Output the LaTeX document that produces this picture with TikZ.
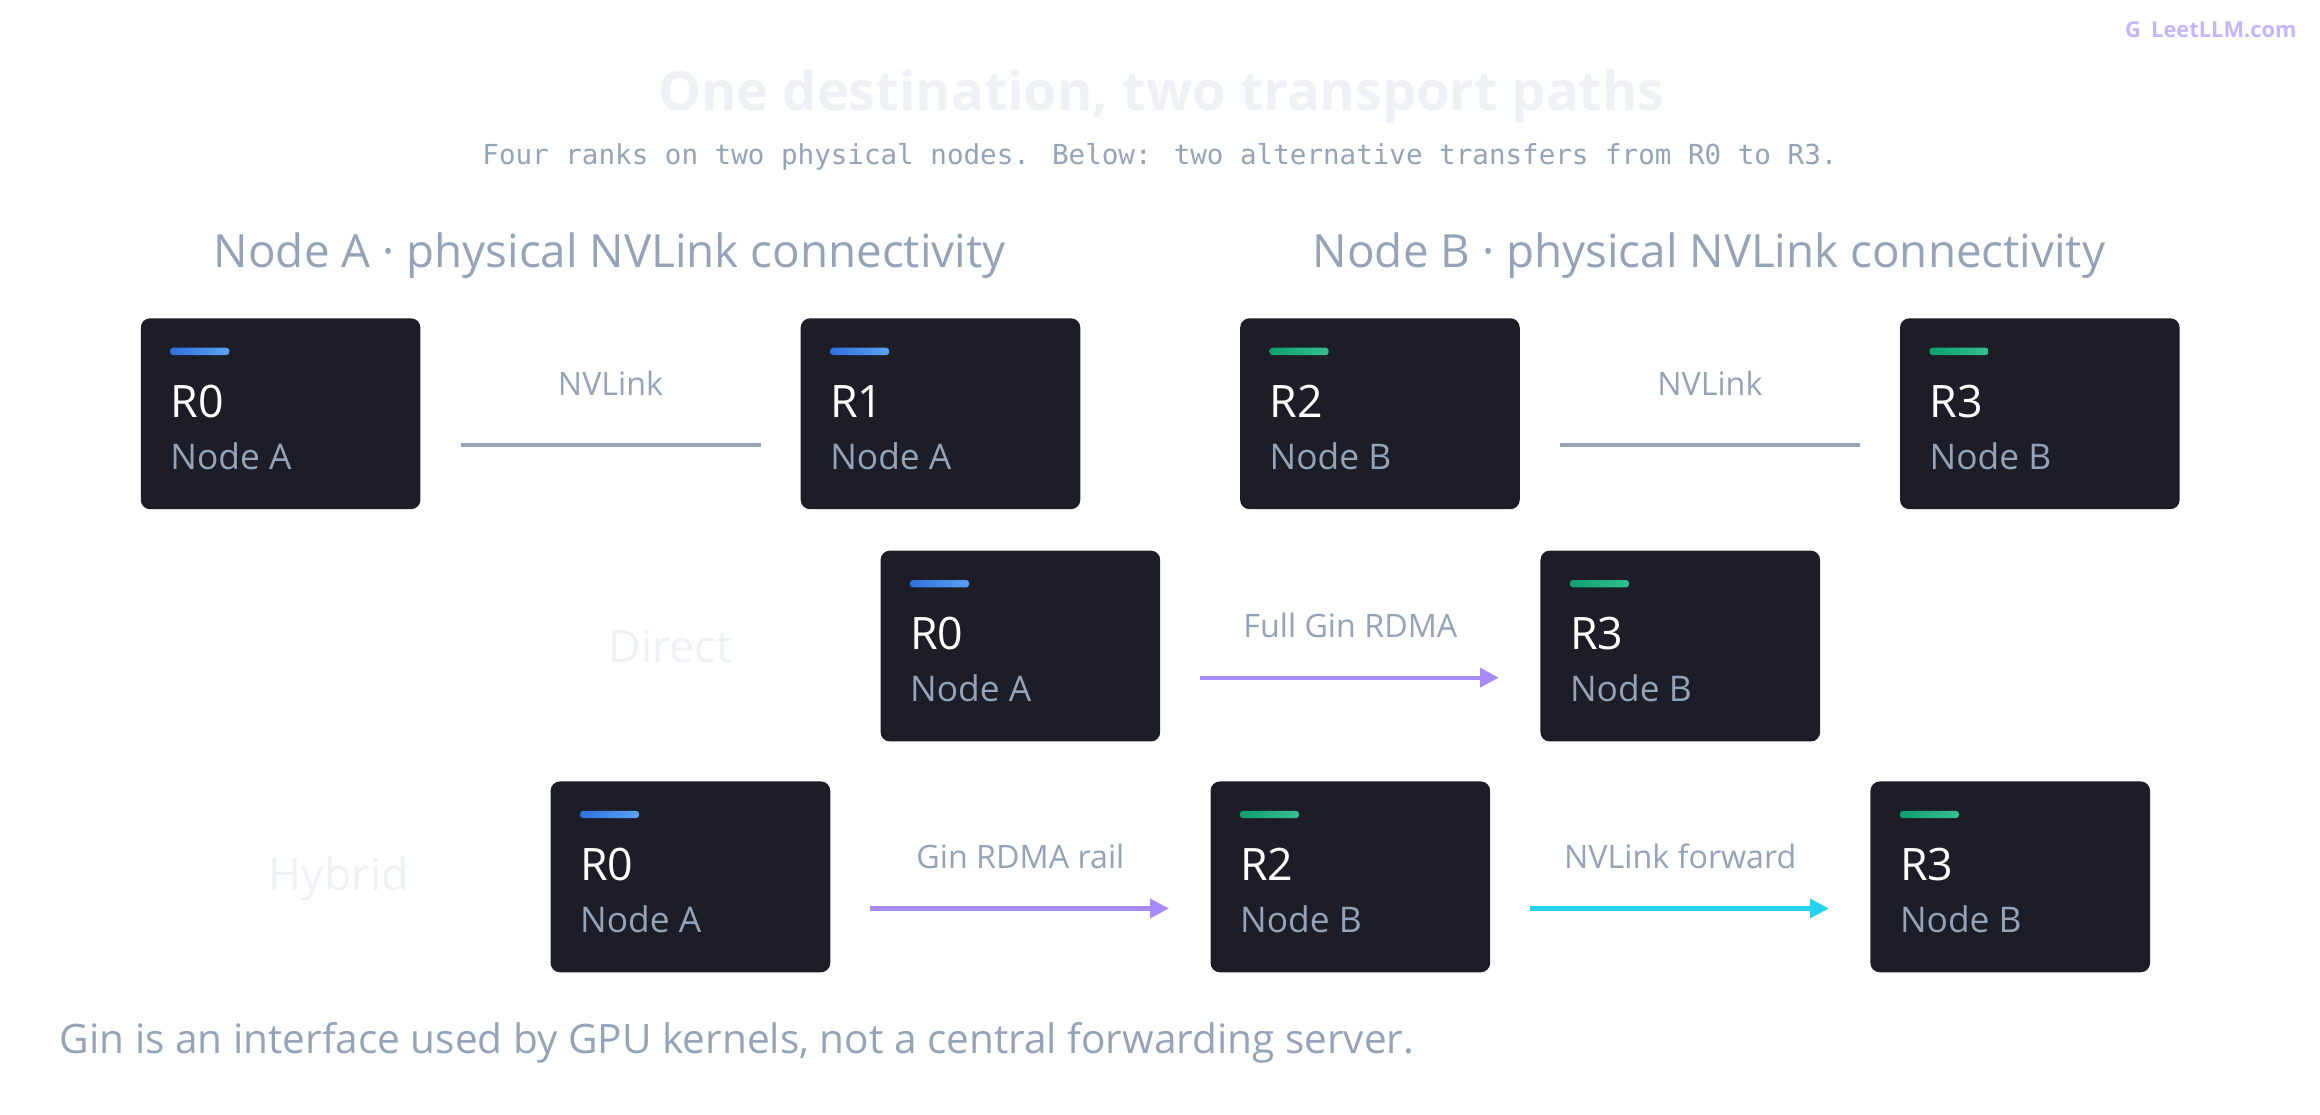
\documentclass[tikz,border=0pt]{standalone}
\usepackage{fontspec}
\setmainfont{Open Sans}
\newfontfamily\monofont{DejaVu Sans Mono}
\usetikzlibrary{positioning,arrows.meta}
\definecolor{BoxFill}{HTML}{1C1D27}
\definecolor{SlateText}{HTML}{94A3B8}
\definecolor{FaintText}{HTML}{EEF2F7}
\definecolor{GinPurple}{HTML}{A78BFA}
\definecolor{FwdCyan}{HTML}{22D3EE}
\definecolor{BlueA}{HTML}{2F6FE0}
\definecolor{BlueB}{HTML}{5AA3F2}
\definecolor{GreenA}{HTML}{0E9F6E}
\definecolor{GreenB}{HTML}{34C08F}
\definecolor{LogoPurple}{HTML}{C4B5FD}
\newcommand{\fs}[1]{\fontsize{#1}{#1}\selectfont}
\begin{document}
\begin{tikzpicture}[x=0.5mm,y=-0.5mm,
  rank/.style={fill=BoxFill,draw=none,rounded corners=9pt,minimum width=189*0.5mm,minimum height=129*0.5mm,anchor=north west,inner sep=0pt},
  link/.style={draw=SlateText,line width=4pt,shorten <=27*0.5mm,shorten >=27*0.5mm},
  gin/.style={draw=GinPurple,line width=4pt,shorten <=27*0.5mm,shorten >=28*0.5mm,-{Triangle[length=18pt,width=18pt]}},
  fwd/.style={gin,draw=FwdCyan},
  lbl/.style={text=SlateText,font=\fs{31}},
  rowlbl/.style={text=FaintText,font=\fs{43}}]
\useasboundingbox (0,0) rectangle (1568,753);
% ranks: name/x/y/label/node/colour
\foreach \n/\x/\y/\r/\h/\c in {a0/95/215/R0/A/Blue,a1/541/215/R1/A/Blue,b2/838/215/R2/B/Green,b3/1284/215/R3/B/Green,
  d0/595/372/R0/A/Blue,d3/1041/372/R3/B/Green,
  h0/372/528/R0/A/Blue,h2/818/528/R2/B/Green,h3/1264/528/R3/B/Green} {
  \node[rank] (\n) at (\x,\y) {};
  \shade[left color=\c A,right color=\c B,rounded corners=3pt] (\x+20,\y+20) rectangle (\x+60,\y+25);
  \node[anchor=base west,text=white,inner sep=0pt,font=\fs{43}] at (\x+20,\y+67) {\r};
  \node[anchor=base west,text=SlateText,inner sep=0pt,font=\fs{34}] at (\x+20,\y+102) {Node \h};
}
% headings
\node[text=FaintText,font=\bfseries\fs{52}] (title) at (785,65) {One destination, two transport paths};
\node[text=SlateText,font=\monofont\fs{26.5}] (sub) at (784,106) {Four ranks on two physical nodes. Below: two alternative transfers from R0 to R3.};
\node[text=SlateText,font=\fs{44}] (hdra) at (412,173) {Node A · physical NVLink connectivity};
\node[text=SlateText,font=\fs{44}] (hdrb) at (1155,173) {Node B · physical NVLink connectivity};
\node[text=LogoPurple,font=\bfseries\fs{21}] (logo) at (1503,20) {LeetLLM.com};
\node[text=LogoPurple,font=\bfseries\fs{21},left=2*0.5mm of logo] (logomark) {G};
\node[rowlbl] (direct) at (453,437) {Direct};
\node[rowlbl] (hybrid) at (229,594) {Hybrid};
\node[text=SlateText,font=\fs{39},anchor=west] (foot) at (38,705) {Gin is an interface used by GPU kernels, not a central forwarding server.};
% connectors
\draw[link] (a0.east|-0,301) -- (a1.west|-0,301) node[midway,lbl,above=30*0.5mm] {NVLink};
\draw[link] (b2.east|-0,301) -- (b3.west|-0,301) node[midway,lbl,above=30*0.5mm] {NVLink};
\draw[gin] (d0.east|-0,458) -- (d3.west|-0,458) node[midway,lbl,above=23*0.5mm] {Full Gin RDMA};
\draw[gin] (h0.east|-0,614) -- (h2.west|-0,614) node[midway,lbl,above=23*0.5mm] {Gin RDMA rail};
\draw[fwd] (h2.east|-0,614) -- (h3.west|-0,614) node[midway,lbl,above=23*0.5mm] {NVLink forward};
\end{tikzpicture}
\end{document}
